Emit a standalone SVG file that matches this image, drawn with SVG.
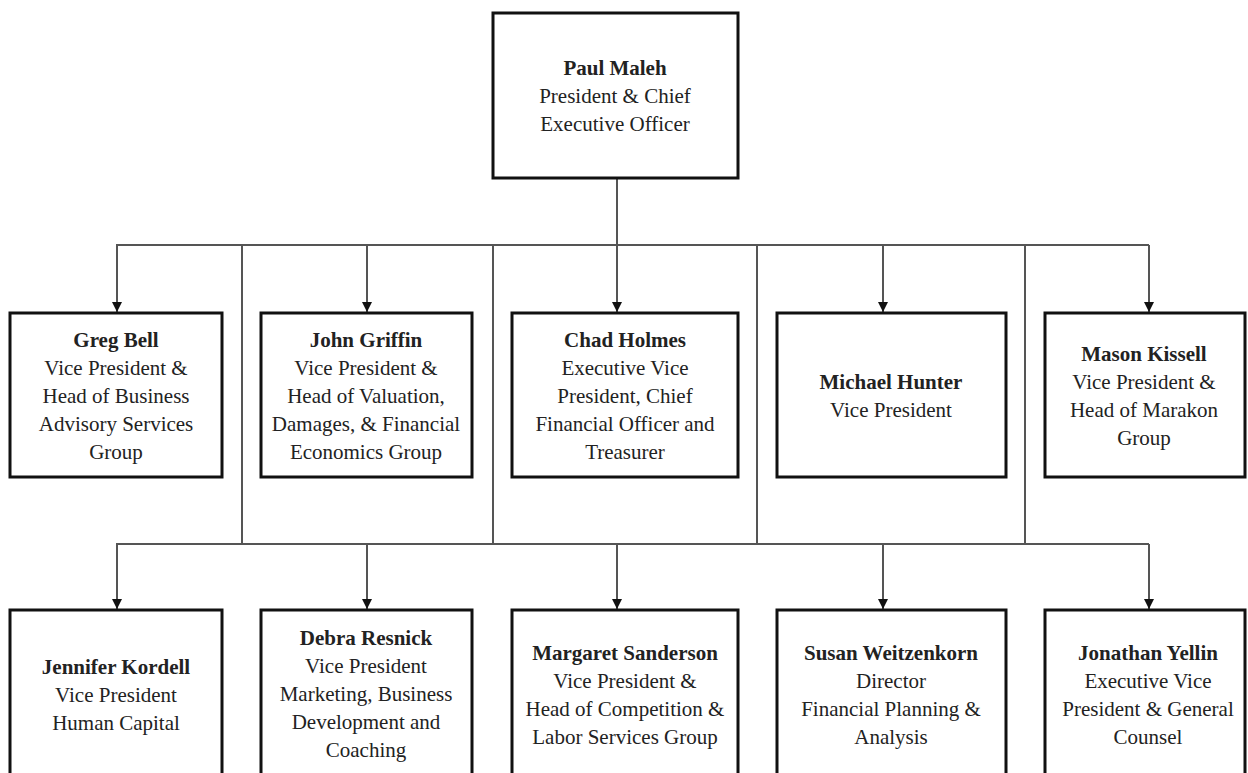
<svg xmlns="http://www.w3.org/2000/svg" width="1248" height="773" viewBox="0 0 1248 773">
<defs>
<style>
.box{fill:#fff;stroke:#111;stroke-width:3}
.t{font-family:"Liberation Serif","Times New Roman",serif;font-size:21px;fill:#222;text-anchor:middle}
.b{font-weight:bold}
.c{fill:none;stroke:#555;stroke-width:2}
</style>
<marker id="arr" viewBox="0 0 10 10" refX="10" refY="5" markerWidth="10" markerHeight="10" markerUnits="userSpaceOnUse" orient="auto">
<path d="M0,0 L10,5 L0,10 z" fill="#111"/>
</marker>
</defs>
<rect width="1248" height="773" fill="#fff"/>
<g id="connectors">
<line class="c" x1="617" y1="178" x2="617" y2="245"/>
<line class="c" x1="116" y1="245" x2="1149" y2="245"/>
<line class="c" x1="117" y1="245" x2="117" y2="312" marker-end="url(#arr)"/>
<line class="c" x1="367" y1="245" x2="367" y2="312" marker-end="url(#arr)"/>
<line class="c" x1="617" y1="245" x2="617" y2="312" marker-end="url(#arr)"/>
<line class="c" x1="883" y1="245" x2="883" y2="312" marker-end="url(#arr)"/>
<line class="c" x1="1149" y1="245" x2="1149" y2="312" marker-end="url(#arr)"/>
<line class="c" x1="242" y1="245" x2="242" y2="544"/>
<line class="c" x1="493" y1="245" x2="493" y2="544"/>
<line class="c" x1="757" y1="245" x2="757" y2="544"/>
<line class="c" x1="1025" y1="245" x2="1025" y2="544"/>
<line class="c" x1="116" y1="544" x2="1149" y2="544"/>
<line class="c" x1="117" y1="544" x2="117" y2="609" marker-end="url(#arr)"/>
<line class="c" x1="367" y1="544" x2="367" y2="609" marker-end="url(#arr)"/>
<line class="c" x1="617" y1="544" x2="617" y2="609" marker-end="url(#arr)"/>
<line class="c" x1="883" y1="544" x2="883" y2="609" marker-end="url(#arr)"/>
<line class="c" x1="1149" y1="544" x2="1149" y2="609" marker-end="url(#arr)"/>
</g>
<g id="paul">
<rect class="box" x="493" y="13" width="245" height="165"/>
<text class="t" x="615" y="75"><tspan class="b" x="615">Paul Maleh</tspan><tspan x="615" dy="28">President &amp; Chief</tspan><tspan x="615" dy="28">Executive Officer</tspan></text>
</g>
<g id="greg">
<rect class="box" x="10" y="313" width="212" height="164"/>
<text class="t" x="116" y="347"><tspan class="b" x="116">Greg Bell</tspan><tspan x="116" dy="28">Vice President &amp;</tspan><tspan x="116" dy="28">Head of Business</tspan><tspan x="116" dy="28">Advisory Services</tspan><tspan x="116" dy="28">Group</tspan></text>
</g>
<g id="john">
<rect class="box" x="261" y="313" width="211" height="164"/>
<text class="t" x="366" y="347"><tspan class="b" x="366">John Griffin</tspan><tspan x="366" dy="28">Vice President &amp;</tspan><tspan x="366" dy="28">Head of Valuation,</tspan><tspan x="366" dy="28">Damages, &amp; Financial</tspan><tspan x="366" dy="28">Economics Group</tspan></text>
</g>
<g id="chad">
<rect class="box" x="512" y="313" width="226" height="164"/>
<text class="t" x="625" y="347"><tspan class="b" x="625">Chad Holmes</tspan><tspan x="625" dy="28">Executive Vice</tspan><tspan x="625" dy="28">President, Chief</tspan><tspan x="625" dy="28">Financial Officer and</tspan><tspan x="625" dy="28">Treasurer</tspan></text>
</g>
<g id="michael">
<rect class="box" x="777" y="313" width="229" height="164"/>
<text class="t" x="891" y="389"><tspan class="b" x="891">Michael Hunter</tspan><tspan x="891" dy="28">Vice President</tspan></text>
</g>
<g id="mason">
<rect class="box" x="1045" y="313" width="200" height="164"/>
<text class="t" x="1144" y="361"><tspan class="b" x="1144">Mason Kissell</tspan><tspan x="1144" dy="28">Vice President &amp;</tspan><tspan x="1144" dy="28">Head of Marakon</tspan><tspan x="1144" dy="28">Group</tspan></text>
</g>
<g id="jennifer">
<rect class="box" x="10" y="610" width="212" height="166"/>
<text class="t" x="116" y="674"><tspan class="b" x="116">Jennifer Kordell</tspan><tspan x="116" dy="28">Vice President</tspan><tspan x="116" dy="28">Human Capital</tspan></text>
</g>
<g id="debra">
<rect class="box" x="261" y="610" width="211" height="166"/>
<text class="t" x="366" y="645"><tspan class="b" x="366">Debra Resnick</tspan><tspan x="366" dy="28">Vice President</tspan><tspan x="366" dy="28">Marketing, Business</tspan><tspan x="366" dy="28">Development and</tspan><tspan x="366" dy="28">Coaching</tspan></text>
</g>
<g id="margaret">
<rect class="box" x="512" y="610" width="226" height="166"/>
<text class="t" x="625" y="660"><tspan class="b" x="625">Margaret Sanderson</tspan><tspan x="625" dy="28">Vice President &amp;</tspan><tspan x="625" dy="28">Head of Competition &amp;</tspan><tspan x="625" dy="28">Labor Services Group</tspan></text>
</g>
<g id="susan">
<rect class="box" x="777" y="610" width="229" height="166"/>
<text class="t" x="891" y="660"><tspan class="b" x="891">Susan Weitzenkorn</tspan><tspan x="891" dy="28">Director</tspan><tspan x="891" dy="28">Financial Planning &amp;</tspan><tspan x="891" dy="28">Analysis</tspan></text>
</g>
<g id="jonathan">
<rect class="box" x="1045" y="610" width="200" height="166"/>
<text class="t" x="1148" y="660"><tspan class="b" x="1148">Jonathan Yellin</tspan><tspan x="1148" dy="28">Executive Vice</tspan><tspan x="1148" dy="28">President &amp; General</tspan><tspan x="1148" dy="28">Counsel</tspan></text>
</g>
</svg>
